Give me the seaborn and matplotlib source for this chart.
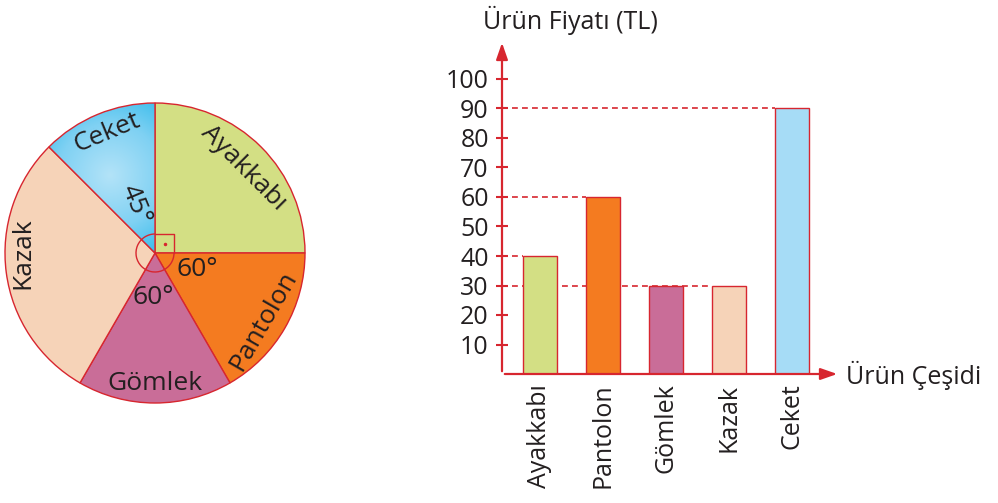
import numpy as np
import matplotlib
matplotlib.use("Agg")
import matplotlib.pyplot as plt
import seaborn as sns
import pandas as pd
from matplotlib.patches import Arc
from matplotlib.colors import LinearSegmentedColormap

# data
urunler = ["Ayakkabı", "Pantolon", "Gömlek", "Kazak", "Ceket"]
fiyatlar = [40, 60, 30, 30, 90]
acilar = [90, 60, 60, 105, 45]
renkler = ["#d3df84", "#f47b20", "#c96d98", "#f6d3b8", "#a6dcf6"]
yticks = [10, 20, 30, 40, 50, 60, 70, 80, 90, 100]

RED = "#d7262f"
INK = "#231f20"
sns.set_style("white")
plt.rcParams["font.family"] = ["Open Sans", "DejaVu Sans"]
plt.rcParams["text.color"] = INK
plt.rcParams["xtick.labelcolor"] = INK
plt.rcParams["ytick.labelcolor"] = INK

fig = plt.figure(figsize=(9.98, 5.03), dpi=100)
W, H = 998, 503

# ---------- pie ----------
cx, cy, r = 155, 253, 150
axp = fig.add_axes([(cx - 1.1 * r) / W, (H - cy - 1.1 * r) / H, 2.2 * r / W, 2.2 * r / H])
pie_cols = renkler[:4] + ["#4cc4ef"]
wedges, _ = axp.pie(acilar, colors=pie_cols, startangle=90, counterclock=False,
                    wedgeprops=dict(edgecolor=RED, linewidth=1))
axp.set_xlim(-1.1, 1.1)
axp.set_ylim(-1.1, 1.1)
axp.set_aspect("equal")
axp.axis("off")

# radial gradient for Ceket
gx, gy = np.meshgrid(np.linspace(-1, 1, 400), np.linspace(-1, 1, 400))
d = np.sqrt((gx + 0.3) ** 2 + (gy - 0.52) ** 2)
cmap = LinearSegmentedColormap.from_list("ceket", ["#b3e3f8", "#7fd1f3", "#1db4e9"])
im = axp.imshow(d, extent=(-1, 1, -1, 1), origin="lower", cmap=cmap, vmin=0, vmax=0.7, zorder=1.5)
im.set_clip_path(wedges[4])
wedges[4].set_zorder(1.6)
wedges[4].set_facecolor("none")

fs = 19
axp.text(-0.32, 0.80, "Ceket", rotation=22.5, fontsize=fs, ha="center", va="center", rotation_mode="anchor", zorder=3)
axp.text(-0.13, 0.32, "45°", rotation=-67.5, fontsize=fs, ha="center", va="center", rotation_mode="anchor", zorder=3)
axp.text(0.59, 0.57, "Ayakkabı", rotation=-45, fontsize=fs, ha="center", va="center", rotation_mode="anchor", zorder=3)
axp.text(0.28, -0.11, "60°", fontsize=fs, ha="center", va="center", zorder=3)
axp.text(0.72, -0.45, "Pantolon", rotation=60, fontsize=fs, ha="center", va="center", rotation_mode="anchor", zorder=3)
axp.text(-0.01, -0.30, "60°", fontsize=fs, ha="center", va="center", zorder=3)
axp.text(0.0, -0.87, "Gömlek", fontsize=fs, ha="center", va="center", zorder=3)
axp.text(-0.88, 0.0, "Kazak", rotation=90, fontsize=fs, ha="center", va="center", rotation_mode="anchor", zorder=3)

ra = 19 / r
axp.add_patch(Arc((0, 0), 2 * ra, 2 * ra, theta1=90, theta2=360, color=RED, lw=1, zorder=3))
axp.plot([0, ra, ra], [ra, ra, 0], color=RED, lw=1, zorder=3)
axp.plot([ra / 2], [ra / 2], "o", color=RED, ms=1.5, zorder=3)

# ---------- bars ----------
x0, y0, x1, y1 = 502, 374, 840, 40
ax = fig.add_axes([x0 / W, (H - y0) / H, (x1 - x0) / W, (y0 - y1) / H])
df = pd.DataFrame({"urun": urunler, "fiyat": fiyatlar})
bw = 0.54
sns.barplot(data=df, x="urun", y="fiyat", hue="urun", palette=dict(zip(urunler, renkler)),
            width=bw, saturation=1, edgecolor=RED, linewidth=1, legend=False, ax=ax, zorder=3)
ax.set_xlim(-0.6, -0.6 + (x1 - x0) / 63)
ax.set_ylim(0, (y0 - y1) / 2.95)

# dashed guide lines
for i, v in enumerate(fiyatlar):
    if i == 2:
        continue
    ax.hlines(v, -0.6, i - bw / 2, colors=RED, linestyles=(0, (3.5, 2.5)), lw=1.2, zorder=1)

for s in ax.spines.values():
    s.set_visible(False)
ax.annotate("", xy=(1, 0), xytext=(0, 0), xycoords="axes fraction",
            arrowprops=dict(arrowstyle="-|>,head_length=1.0,head_width=0.35", color=RED, lw=1.6), zorder=5)
ax.annotate("", xy=(0, 1), xytext=(0, 0), xycoords="axes fraction",
            arrowprops=dict(arrowstyle="-|>,head_length=1.0,head_width=0.35", color=RED, lw=1.6), zorder=5)

ax.set_yticks(yticks)
ax.set_yticklabels([str(t) for t in yticks], fontsize=18)
ax.tick_params(axis="y", direction="inout", length=9, width=1.5, color=RED, pad=5, left=True)
ax.tick_params(axis="x", length=0, pad=7)
ax.set_xticks(range(len(urunler)))
ax.set_xticklabels(urunler, rotation=90, fontsize=18, va="top", ha="center")
ax.set_xlabel("")
ax.set_ylabel("")

fig.text(570 / W, 1 - 20 / H, "Ürün Fiyatı (TL)", fontsize=18, ha="center", va="center")
fig.text(846 / W, 1 - 375 / H, "Ürün Çeşidi", fontsize=18, ha="left", va="center")

fig.savefig("out.png", dpi=100)
